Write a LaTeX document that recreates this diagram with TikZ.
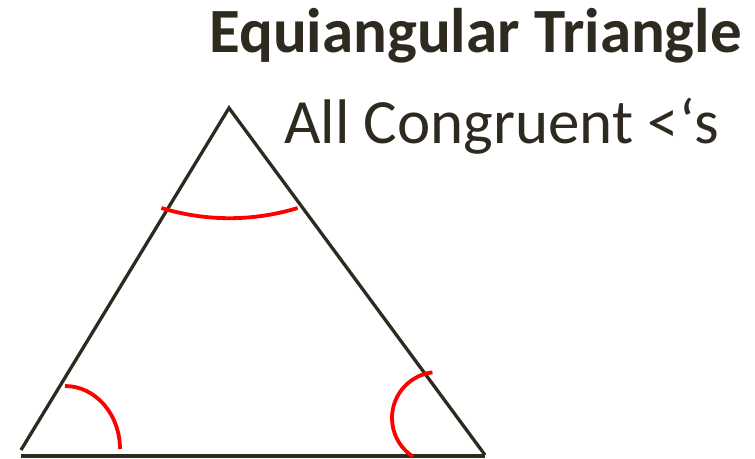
\documentclass[tikz,border=0pt]{standalone}
\usepackage{fontspec}
\setmainfont{Carlito}
\usetikzlibrary{calc,positioning}
\definecolor{ink}{HTML}{2F2A1F}
\tikzset{
  side/.style={line width=3.3pt,ink},
  anglemark/.style={line width=3.8pt,red},
}

\begin{document}
\begin{tikzpicture}[x=1pt,y=1pt]
  \useasboundingbox (0,0) rectangle (755,458);

  \coordinate (A) at (229,350);
  \coordinate (B) at (21,8);
  \coordinate (C) at (485,3);
  \draw[side] (B) -- (A) -- (C);
  \draw[side,line width=4pt] (21,2.5) -- (485,2.5);

  % congruent angle marks
  \draw[anglemark] (65,72) arc[start angle=90,end angle=0,x radius=55,y radius=63];
  \draw[anglemark] ($(438,40)+(97:46)$) arc[start angle=97,end angle=237,radius=46];
  \draw[anglemark] ($(229.5,472.8)+(253:233)$) arc[start angle=253,end angle=287,radius=233];

  \node[anchor=base east,inner sep=0,ink,font=\bfseries\fontsize{63}{63}\selectfont] (title) at (742,405) {Equiangular Triangle};
  \node[anchor=base west,inner sep=0,ink,font=\fontsize{63}{63}\selectfont] (sub) at (284,314) {All Congruent <\kern1pt‘s};
\end{tikzpicture}
\end{document}
